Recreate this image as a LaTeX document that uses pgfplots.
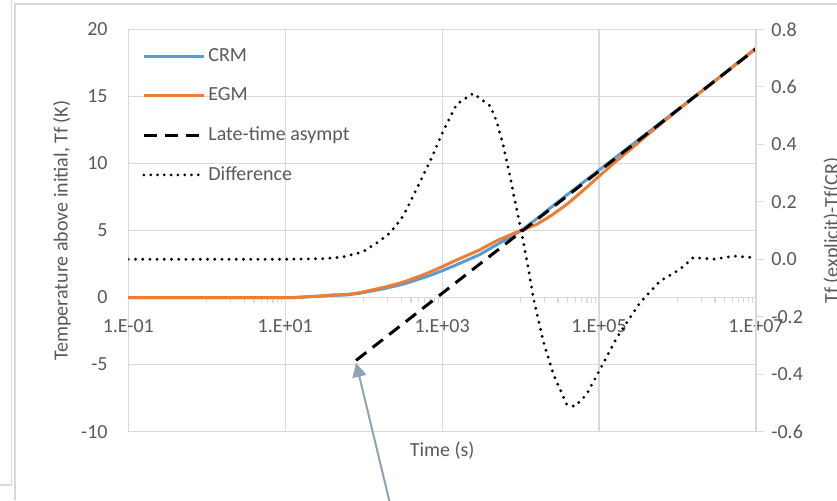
\documentclass[border=0pt]{standalone}
\usepackage{fontspec}
\setmainfont{Carlito}
\usepackage{pgfplots}
\pgfplotsset{compat=1.18}
\usetikzlibrary{arrows.meta}
\definecolor{crm}{RGB}{91,155,213}
\definecolor{egm}{RGB}{237,125,49}
\definecolor{txt}{RGB}{89,89,89}
\definecolor{grd}{RGB}{217,217,217}
\definecolor{arr}{RGB}{143,164,178}

\pgfplotstableread{
t T
0.1 0
10 0
12.7 0
28 0.1
41 0.17
61 0.2
90 0.33
178 0.65
320 1.0
520 1.4
700 1.65
1000 2.0
1400 2.35
3000 3.2
5000 3.95
10000 4.97
15849 5.85
25119 6.78
39811 7.70
63096 8.60
100000 9.50
158489 10.40
251189 11.30
398107 12.20
630957 13.10
1000000 14.00
3162278 16.28
10000000 18.55
}\crmdata

\pgfplotstableread{
t T
0.1 0
10 0
12.7 0
28 0.12
41 0.2
61 0.22
90 0.37
178 0.75
320 1.15
520 1.6
700 1.9
1000 2.3
1400 2.7
3000 3.55
5000 4.25
10000 5.0
15849 5.44
25119 6.15
39811 7.0
63096 8.0
100000 9.05
158489 10.08
251189 11.05
398107 12.04
630957 13.01
1000000 13.96
3162278 16.26
10000000 18.6
}\egmdata

\pgfplotstableread{
t T
80 -4.68
10000000 18.54
}\asydata

\pgfplotstableread{
t D
0.1 0
10 0
30 0.002
54.5 0.008
97.9 0.026
161 0.064
216 0.092
300 0.14
353 0.174
700 0.34
1035 0.447
1535 0.54
2495 0.577
4074 0.534
4955 0.48
6012 0.395
7328 0.29
8072 0.23
9817 0.12
12531 -0.03
14521 -0.134
19454 -0.285
26122 -0.40
38726 -0.505
49317 -0.512
69502 -0.47
102802 -0.383
167880 -0.273
332660 -0.151
598400 -0.076
1076400 -0.035
1588500 0.006
2858000 0.0
5140000 0.011
9247000 0.006
10000000 0.003
}\difdata

\begin{document}
\begin{tikzpicture}
\useasboundingbox (0,0) rectangle (418.5pt,250pt);
\draw[grd, line width=0.6pt] (7.5pt,0pt) -- (7.5pt,248pt) -- (420pt,248pt);
\draw[grd, line width=0.6pt] (-1pt,7.5pt) -- (5.85pt,7.5pt) -- (5.85pt,251pt);

\begin{axis}[
  at={(64.15pt,34.15pt)}, anchor=south west,
  scale only axis, width=313.85pt, height=201.2pt,
  xmode=log, xmin=0.1, xmax=1e7, ymin=-10, ymax=20,
  axis x line=middle, axis y line=left,
  hide obscured x ticks=false, hide obscured y ticks=false,
  axis line style={-, draw=grd, line width=0.6pt},
  xtick={1e-1,1e1,1e3,1e5,1e7},
  xticklabels={1.E-01,1.E+01,1.E+03,1.E+05,1.E+07},
  minor xtick={1,2,3,4,5,6,7,8,9,100,200,300,400,500,600,700,800,900,1e4,2e4,3e4,4e4,5e4,6e4,7e4,8e4,9e4,1e6,2e6,3e6,4e6,5e6,6e6,7e6,8e6,9e6},
  major tick length=0pt, minor tick length=2.6pt,
  x tick style={draw=grd, line width=0.6pt, yshift=-1.3pt},
  ytick={-10,-5,0,5,10,15,20},
  ytick style={draw=none},
  xmajorgrids, ymajorgrids,
  grid style={grd, line width=0.6pt},
  tick label style={text=txt},
  /pgf/number format/assume math mode=true,
  yticklabel style={xshift=-6.8pt},
  xticklabel style={anchor=center, yshift=-14.3pt},
  xlabel={Time (s)},
  ylabel={Temperature above initial, Tf (K)},
  label style={text=txt},
  xlabel style={at={([yshift=-9.2pt]axis description cs:0.5,0)}, anchor=center},
  ylabel style={at={([xshift=-33.2pt]axis description cs:0,0.5)}, anchor=center},
  legend style={at={([xshift=6.85pt,yshift=-8pt]axis description cs:0,1)}, anchor=north west,
    draw=none, fill=none, text=txt, row sep=8.5pt,
    inner xsep=0pt, inner ysep=0pt, nodes={inner sep=1.5pt}},
  legend cell align=left,
  legend image code/.code={\draw[#1] (0pt,0pt) -- (30pt,0pt);},
  clip=false,
]
\addplot[crm, line width=1.5pt] table[x=t,y=T] {\crmdata};
\addlegendentry{CRM}
\addplot[egm, line width=1.5pt] table[x=t,y=T] {\egmdata};
\addlegendentry{EGM}
\addplot[black, line width=1.5pt, dash pattern=on 6.5pt off 4pt] table[x=t,y=T] {\asydata};
\addlegendentry{Late-time asympt}
\addlegendimage{black, line width=1.5pt, line cap=round, dash pattern=on 0pt off 3.4pt}
\addlegendentry{Difference}
\draw[arr, line width=1pt, -{Triangle[length=7pt,width=7pt]}] (axis cs:229.6,-15.98) -- (axis cs:80,-4.87);
\end{axis}

\begin{axis}[
  at={(64.15pt,34.15pt)}, anchor=south west,
  scale only axis, width=313.85pt, height=201.2pt,
  xmode=log, xmin=0.1, xmax=1e7, ymin=-0.6, ymax=0.8,
  axis x line=none, axis y line*=right,
  axis line style={-, draw=grd, line width=0.6pt},
  xtick=\empty,
  ytick={-0.6,-0.4,-0.2,0,0.2,0.4,0.6,0.8},
  yticklabel style={/pgf/number format/.cd, fixed, fixed zerofill, precision=1, assume math mode=true},
  tick align=outside, major tick length=4.2pt,
  ytick style={draw=grd, line width=0.6pt},
  tick label style={text=txt},
  ylabel={Tf (explicit)-Tf(CR)},
  label style={text=txt},
  ylabel style={at={([xshift=38.2pt]axis description cs:1,0.5)}, anchor=center},
]
\addplot[black, line width=1.6pt, line cap=round, dash pattern=on 0pt off 3.6pt] table[x=t,y=D] {\difdata};
\end{axis}
\end{tikzpicture}
\end{document}
